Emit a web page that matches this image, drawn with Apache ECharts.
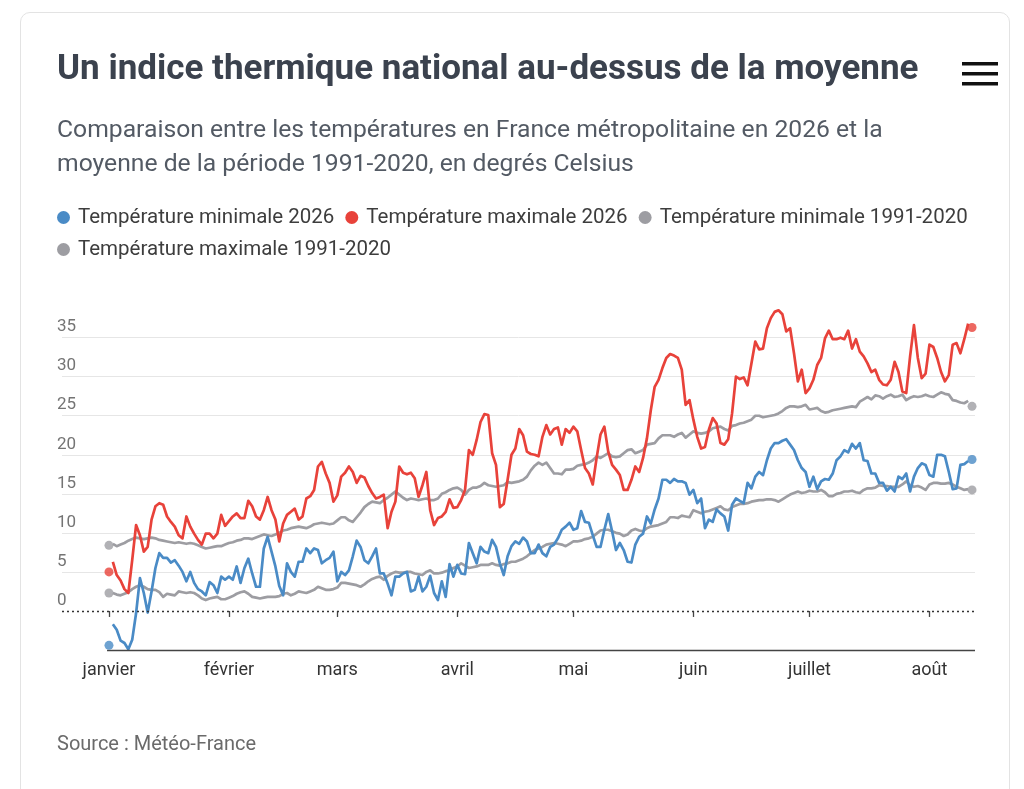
<!DOCTYPE html>
<html lang="fr">
<head>
<meta charset="utf-8">
<title>Un indice thermique national au-dessus de la moyenne</title>
<script src="https://cdn.jsdelivr.net/npm/echarts@6.0.0/dist/echarts.min.js"></script>
<style>
  html, body { margin: 0; padding: 0; background: #fff; }
  #card { position: absolute; left: 20px; top: 12px; width: 990px; height: 800px;
          border: 1px solid #e3e3e3; border-radius: 10px; box-sizing: border-box; }
  #main { position: absolute; left: 0; top: 0; width: 1024px; height: 789px; }
</style>
</head>
<body>
<div id="card"></div>
<div id="main"></div>
<script>
// mois de l'axe horizontal (jour 0 = 1er janvier)
var monthLabels = ['janvier', 'février', 'mars', 'avril', 'mai', 'juin', 'juillet', 'août'];
var monthStarts = [0, 31, 59, 90, 120, 151, 181, 212];

// températures quotidiennes, du 1er janvier au 12 août
var tmin2026 = [
  -4.4, -1.7, -2.4, -3.8, -4.1, -4.9, -3.7, -0.3, 4.2, 2.3,
  -0.2, 2.5, 5.5, 7.4, 6.8, 6.8, 6.2, 6.5, 5.8, 5.0,
  3.8, 5.0, 3.6, 2.8, 2.5, 2.0, 3.7, 3.3, 2.3, 4.4,
  4.0, 4.4, 4.0, 5.7, 3.6, 5.5, 6.7, 4.8, 3.1, 3.1,
  8.0, 9.5, 7.6, 5.7, 3.2, 2.0, 6.1, 5.0, 4.4, 6.3,
  6.3, 8.0, 7.4, 8.0, 7.8, 6.1, 6.5, 6.8, 7.6, 3.8,
  5.0, 4.6, 5.2, 7.0, 9.0, 8.2, 6.5, 6.1, 7.0, 8.0,
  4.8, 4.8, 3.5, 2.0, 4.4, 4.4, 4.8, 5.0, 2.5, 2.7,
  4.4, 2.5, 3.1, 4.5, 2.3, 1.4, 3.8, 1.8, 6.0, 4.4,
  5.9, 4.8, 4.7, 8.7, 7.4, 6.1, 8.2, 7.6, 7.4, 9.1,
  8.2, 6.1, 4.6, 7.0, 8.3, 8.9, 8.6, 9.4, 8.9, 7.4,
  7.4, 8.5, 7.4, 7.0, 8.2, 8.5, 9.3, 10.4, 10.8, 11.3,
  10.4, 10.6, 12.8, 11.4, 11.3, 9.7, 8.2, 8.2, 10.4, 12.4,
  10.2, 7.8, 8.7, 7.8, 6.3, 6.2, 8.5, 9.5, 9.9, 12.1,
  11.2, 13.0, 14.4, 16.8, 16.8, 16.4, 16.9, 16.6, 16.6, 16.4,
  14.9, 15.5, 13.8, 14.4, 10.6, 11.7, 11.4, 13.0, 12.5, 12.1,
  10.3, 13.6, 14.4, 14.1, 13.8, 16.4, 15.7, 17.2, 17.8, 17.4,
  19.3, 20.8, 21.5, 21.5, 21.8, 22.0, 21.3, 20.6, 19.3, 18.3,
  17.8, 15.9, 17.2, 15.6, 16.6, 16.9, 16.8, 17.6, 19.3, 19.8,
  20.6, 20.3, 21.4, 20.8, 21.5, 19.3, 19.2, 17.6, 17.6, 16.4,
  16.4, 15.4, 15.9, 15.3, 17.2, 16.9, 17.6, 15.3, 17.2, 18.3,
  18.9, 18.7, 17.4, 17.2, 20.0, 20.0, 19.8, 17.8, 15.6, 15.7,
  18.7, 18.8, 19.2, 19.4
];

var tmax2026 = [
  5.0, 6.3, 4.6, 3.9, 2.8, 2.3, 6.5, 11.0, 9.7, 7.6,
  8.2, 11.7, 13.4, 13.8, 13.6, 12.1, 11.4, 10.8, 9.7, 9.3,
  12.1, 10.8, 9.9, 9.1, 8.5, 9.9, 9.9, 9.3, 9.9, 12.3,
  10.9, 11.5, 12.1, 12.5, 11.9, 11.9, 14.1, 13.4, 12.1, 11.7,
  12.9, 14.6, 12.9, 11.7, 8.9, 11.2, 12.3, 12.7, 13.1, 11.7,
  12.1, 14.4, 14.7, 15.5, 18.5, 19.1, 17.6, 16.4, 14.0, 14.8,
  17.2, 17.7, 18.5, 17.8, 16.4, 17.3, 17.1, 16.0, 15.1, 14.4,
  14.6, 14.9, 10.6, 12.7, 14.0, 18.5, 17.7, 17.5, 17.7, 17.0,
  14.6, 16.1, 17.8, 12.9, 11.0, 11.9, 12.1, 12.7, 14.3, 13.2,
  13.3, 14.2, 15.5, 20.6, 20.0, 21.9, 24.2, 25.2, 25.1, 20.2,
  18.7, 13.3, 13.7, 16.8, 20.0, 20.8, 23.3, 22.5, 20.4, 20.1,
  20.0, 19.8, 22.3, 23.8, 22.6, 23.3, 23.5, 21.3, 23.3, 22.8,
  23.6, 23.0, 20.6, 18.3, 17.6, 16.2, 19.6, 22.6, 23.6, 20.4,
  18.7, 18.1, 17.4, 15.5, 15.5, 16.8, 18.5, 17.8, 19.6, 22.1,
  25.7, 28.7, 29.6, 31.1, 32.4, 32.9, 32.7, 32.4, 30.9, 26.4,
  27.0, 24.5, 22.3, 20.8, 21.0, 23.2, 24.7, 24.0, 21.5, 21.3,
  22.0, 25.3, 30.0, 29.7, 29.9, 28.9, 31.7, 34.5, 33.5, 33.6,
  36.2, 37.5, 38.3, 38.5, 38.0, 35.8, 36.2, 33.0, 29.4, 30.9,
  27.9, 28.5, 29.6, 31.5, 32.4, 34.9, 35.9, 34.8, 34.8, 35.0,
  34.8, 35.9, 33.6, 34.8, 33.2, 32.6, 31.7, 30.6, 30.9, 29.6,
  29.0, 28.9, 29.6, 31.9, 30.6, 28.1, 27.9, 32.6, 36.6, 32.4,
  29.8, 30.4, 34.1, 33.8, 32.4, 30.6, 29.4, 30.2, 34.1, 34.3,
  33.0, 34.8, 36.8, 36.3
];

var tminNormale = [
  2.3, 2.3, 2.1, 2.0, 2.2, 2.4, 2.8, 3.1, 3.3, 3.1,
  2.8, 2.7, 2.7, 2.4, 1.8, 2.2, 2.1, 2.0, 2.5, 2.4,
  2.3, 2.4, 2.3, 2.0, 1.6, 1.4, 1.6, 1.7, 1.8, 1.5,
  1.5, 1.7, 1.9, 2.2, 2.4, 2.5, 2.2, 1.8, 1.7, 1.6,
  1.7, 1.8, 1.8, 1.8, 1.9, 2.2, 2.3, 2.0, 2.2, 2.5,
  2.4, 2.3, 2.5, 2.7, 3.1, 2.9, 2.7, 2.7, 2.8, 3.0,
  3.6, 3.6, 3.5, 3.4, 3.3, 3.1, 3.4, 3.8, 4.1, 4.3,
  4.4, 4.0, 4.5, 4.8, 5.0, 4.9, 4.9, 5.0, 5.0, 4.8,
  4.7, 4.6, 5.0, 5.2, 4.8, 4.8, 4.9, 5.1, 5.2, 5.5,
  5.7, 6.1, 5.8, 5.5, 5.6, 5.7, 5.9, 5.9, 5.9, 6.1,
  5.9, 5.8, 6.0, 6.1, 6.3, 6.3, 6.5, 6.7, 7.0, 7.4,
  7.8, 8.0, 8.2, 8.5, 8.6, 8.7, 8.6, 8.5, 8.3, 8.6,
  8.9, 8.9, 9.0, 9.2, 9.3, 9.5, 9.9, 10.3, 10.4, 10.4,
  10.2, 10.0, 9.9, 9.6, 9.8, 10.3, 10.5, 10.3, 10.2, 10.6,
  10.8, 10.9, 11.0, 11.2, 11.4, 12.0, 12.0, 11.9, 12.2, 12.1,
  12.0, 12.9, 12.7, 12.5, 12.7, 12.8, 13.0, 13.2, 13.4, 13.0,
  12.9, 13.3, 13.5, 13.7, 13.7, 13.8, 14.0, 14.1, 14.2, 14.2,
  14.3, 14.3, 14.2, 14.0, 14.3, 14.6, 14.9, 15.1, 15.3, 15.1,
  15.2, 15.4, 15.3, 15.3, 15.5, 15.2, 14.7, 14.7, 15.0, 15.1,
  15.3, 15.3, 15.4, 15.2, 15.1, 15.5, 15.7, 15.7, 15.8, 16.1,
  16.0, 16.0, 15.9, 15.9, 15.9, 16.2, 16.6, 16.1, 15.9, 16.0,
  15.8, 15.5, 16.2, 16.4, 16.4, 16.3, 16.3, 16.4, 16.2, 15.9,
  15.7, 15.5, 15.6, 15.5
];

var tmaxNormale = [
  8.4, 8.6, 8.3, 8.5, 8.7, 9.0, 9.2, 9.4, 9.3, 9.2,
  9.3, 9.4, 9.3, 9.1, 9.0, 8.9, 8.8, 8.7, 8.8, 8.7,
  8.6, 8.7, 8.6, 8.4, 8.2, 8.0, 8.1, 8.2, 8.3, 8.3,
  8.5, 8.7, 8.8, 9.0, 9.1, 9.3, 9.3, 9.2, 9.4, 9.6,
  9.8, 9.7, 9.6, 9.8, 10.0, 10.3, 10.4, 10.6, 10.7, 10.8,
  10.7, 10.6, 10.8, 11.1, 11.2, 11.3, 11.2, 11.1, 11.2, 11.6,
  12.0, 12.0, 11.6, 11.4, 12.0, 12.6, 13.3, 13.7, 14.0, 13.9,
  13.8, 14.2, 14.5, 14.9, 15.3, 14.9, 14.5, 14.2, 14.4, 14.3,
  14.2, 14.3, 14.4, 14.2, 14.2, 14.4, 15.0, 15.2, 15.5, 15.7,
  15.8, 15.5, 14.9, 15.5, 15.8, 15.8, 16.0, 16.4, 16.1, 16.0,
  15.9, 16.0, 16.1, 16.5, 16.4, 16.5, 16.6, 16.8, 17.2, 18.0,
  18.6, 19.0, 18.7, 19.0, 18.3, 17.6, 17.6, 17.5, 18.1, 18.1,
  18.2, 18.6, 18.7, 18.8, 19.0, 19.3, 19.8, 19.6, 19.9, 20.2,
  19.8, 19.7, 19.8, 20.2, 20.6, 20.7, 20.2, 20.4, 20.6, 21.3,
  21.4, 21.5, 22.1, 22.5, 22.5, 22.5, 22.3, 22.6, 22.8, 22.2,
  22.6, 23.0, 22.8, 22.7, 22.8, 23.0, 23.4, 23.5, 23.6, 23.3,
  23.1, 23.7, 23.8, 24.0, 24.1, 24.3, 24.5, 25.0, 25.0, 24.8,
  24.9, 25.0, 25.1, 25.3, 25.6, 26.0, 26.2, 26.2, 26.1, 26.2,
  26.4, 25.8, 25.9, 26.0, 25.6, 25.4, 25.5, 25.7, 25.8, 25.9,
  26.0, 26.1, 26.2, 26.1, 26.8, 27.1, 27.4, 27.1, 27.6, 27.5,
  27.2, 27.5, 27.7, 27.4, 27.5, 27.7, 27.0, 27.3, 27.5, 27.4,
  27.5, 27.7, 27.5, 27.4, 27.7, 28.0, 27.8, 27.7, 27.0, 26.9,
  26.7, 26.6, 26.9, 26.2
];

var BLEU = '#4a8bc6';
var ROUGE = '#e8423a';
var GRIS = '#9d9da2';
var TRANSP = 'rgba(0,0,0,0)';
var POLICE = 'Roboto, "Liberation Sans", sans-serif';

var xMin = -12.14, xMax = 223.77;

// la courbe relie les jours 1 à n-1, les points marquent le premier et le dernier jour
function ligne(valeurs) {
  var pts = [];
  for (var j = 1; j < valeurs.length - 1; j++) pts.push([j, valeurs[j]]);
  return pts;
}
function bouts(valeurs) {
  var n = valeurs.length - 1;
  return [[0, valeurs[0]], [n, valeurs[n]]];
}

function serieLigne(nom, valeurs, couleur, z) {
  return {
    name: nom, type: 'line', data: ligne(valeurs), color: couleur, z: z,
    showSymbol: false, smooth: false, silent: true,
    lineStyle: { width: 2.7, color: couleur, join: 'round' }
  };
}
function seriePoints(nom, valeurs, couleur, z) {
  return {
    name: nom, type: 'scatter', data: bouts(valeurs), color: couleur, z: z,
    symbolSize: 9, silent: true, itemStyle: { color: couleur }
  };
}

var noms = ['Température minimale 2026', 'Température maximale 2026',
            'Température minimale 1991-2020', 'Température maximale 1991-2020'];

var myChart = echarts.init(document.getElementById('main'), null, { renderer: 'canvas' });

var series = [
  serieLigne(noms[3], tmaxNormale, GRIS, 2),
  serieLigne(noms[2], tminNormale, GRIS, 2),
  serieLigne(noms[1], tmax2026, ROUGE, 3),
  serieLigne(noms[0], tmin2026, BLEU, 4),
  seriePoints(noms[3], tmaxNormale, GRIS, 5),
  seriePoints(noms[2], tminNormale, GRIS, 5),
  seriePoints(noms[1], tmax2026, ROUGE, 5),
  seriePoints(noms[0], tmin2026, BLEU, 5)
];

// ligne du zéro en pointillés
series[1].markLine = {
  silent: true, symbol: ['none', 'none'], label: { show: false }, animation: false,
  lineStyle: { color: '#333', type: [2, 3], width: 1.4 },
  data: [{ yAxis: 0 }]
};
// trait de l'axe horizontal, à partir du 1er janvier
series[0].markLine = {
  silent: true, symbol: ['none', 'none'], label: { show: false }, animation: false,
  lineStyle: { color: '#444', type: 'solid', width: 1.3 },
  data: [[{ coord: [-0.5, -5] }, { coord: [xMax, -5] }]]
};

var option = {
  animation: false,
  textStyle: { fontFamily: POLICE },
  title: [
    {
      text: 'Un indice thermique national au-dessus de la moyenne',
      left: 57, top: 49, padding: 0,
      textStyle: { fontFamily: POLICE, fontSize: 35, fontWeight: 'bold', color: '#3b424e', lineHeight: 42 }
    },
    {
      text: 'Comparaison entre les températures en France métropolitaine en 2026 et la\nmoyenne de la période 1991-2020, en degrés Celsius',
      left: 57, top: 114, padding: 0,
      textStyle: { fontFamily: POLICE, fontSize: 24.7, fontWeight: 'normal', color: '#535a64', lineHeight: 34 }
    },
    {
      text: 'Source : Météo-France',
      left: 57, top: 733, padding: 0,
      textStyle: { fontFamily: POLICE, fontSize: 20, fontWeight: 'normal', color: '#6a6a6a', lineHeight: 24 }
    }
  ],
  legend: {
    data: noms, left: 57, top: 207, width: 940, padding: 0,
    icon: 'circle', itemWidth: 13, itemHeight: 13, itemGap: 11,
    selectedMode: false,
    textStyle: { fontFamily: POLICE, fontSize: 20.5, color: '#3d3d3d', padding: [0, 6, 0, 3] }
  },
  graphic: [{
    type: 'group', left: 962, top: 62, silent: true,
    children: [
      { type: 'rect', shape: { x: 0, y: 0, width: 36, height: 3.5 }, style: { fill: '#111' } },
      { type: 'rect', shape: { x: 0, y: 10, width: 36, height: 3.5 }, style: { fill: '#111' } },
      { type: 'rect', shape: { x: 0, y: 20, width: 36, height: 3.5 }, style: { fill: '#111' } }
    ]
  }],
  grid: { left: 62, right: 49, top: 298.6, bottom: 139, containLabel: false },
  xAxis: {
    type: 'value', min: xMin, max: xMax,
    axisLine: { show: false },
    splitLine: { show: false },
    axisTick: { show: true, customValues: monthStarts, length: 6, lineStyle: { color: '#444', width: 1.3 } },
    axisLabel: {
      customValues: monthStarts, margin: 11, fontSize: 18, color: '#333', fontFamily: POLICE,
      formatter: function (v) { return monthLabels[monthStarts.indexOf(v)] || ''; }
    }
  },
  yAxis: {
    type: 'value', min: -5, max: 40, interval: 5,
    axisLine: { show: false }, axisTick: { show: false },
    splitLine: {
      show: true,
      lineStyle: { width: 1, color: [TRANSP, TRANSP, '#e6e6e6', '#e6e6e6', '#e6e6e6', '#e6e6e6', '#e6e6e6', '#e6e6e6', '#e6e6e6', TRANSP] }
    },
    axisLabel: {
      align: 'left', verticalAlign: 'bottom', margin: 5, padding: [0, 0, 2, 0],
      fontSize: 17, color: '#747474', fontFamily: POLICE,
      formatter: function (v) { return (v < 0 || v > 35) ? '' : String(v); }
    }
  },
  series: series
};

myChart.setOption(option);
</script>
</body>
</html>
